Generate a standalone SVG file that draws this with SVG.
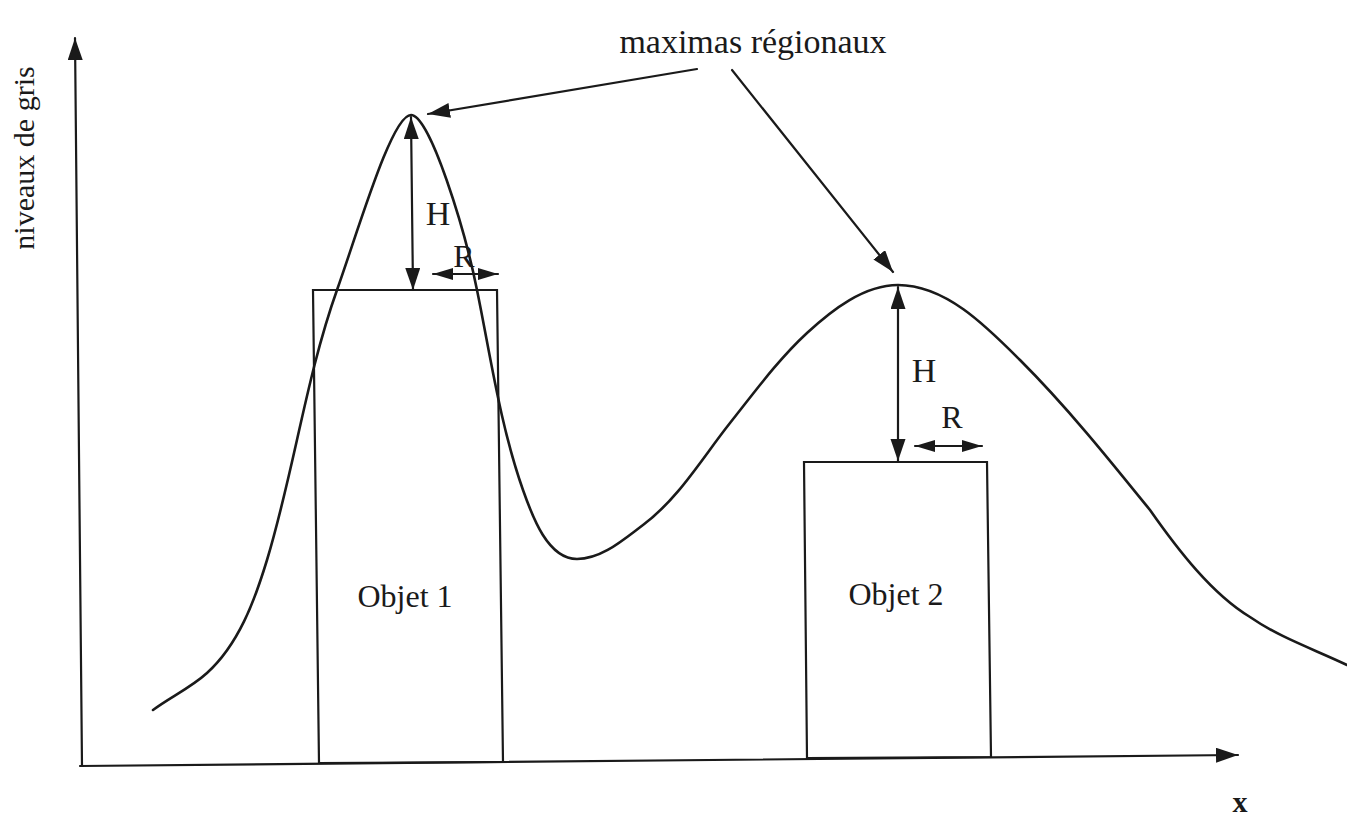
<svg xmlns="http://www.w3.org/2000/svg" width="1347" height="818" viewBox="0 0 1347 818">
<style>
.ln{fill:none;stroke:#1a1a1a;stroke-width:2.2;stroke-linecap:round;stroke-linejoin:round}
.cv{fill:none;stroke:#1a1a1a;stroke-width:2.6;stroke-linecap:round;stroke-linejoin:round}
.obj{fill:none;stroke:#1a1a1a;stroke-width:2.2}
.t{font-family:"Liberation Serif","Times New Roman",serif;fill:#1a1a1a}
</style>
<defs>
<marker id="ah" markerUnits="userSpaceOnUse" markerWidth="24" markerHeight="16" refX="22" refY="7.5" orient="auto-start-reverse" viewBox="0 0 24 16">
<path d="M0,0 L22,7.5 L0,15 z" fill="#1a1a1a"/>
</marker>
<marker id="ahs" markerUnits="userSpaceOnUse" markerWidth="22" markerHeight="14" refX="20" refY="6" orient="auto-start-reverse" viewBox="0 0 22 14">
<path d="M0,0 L20,6 L0,12 z" fill="#1a1a1a"/>
</marker>
</defs>
<rect width="1347" height="818" fill="#ffffff"/>
<g id="axes">
<line class="ln" x1="82" y1="766" x2="75" y2="38" marker-end="url(#ah)"/>
<line class="ln" x1="80" y1="766" x2="1238" y2="755" marker-end="url(#ah)"/>
<text class="t" x="34" y="158" font-size="30" text-anchor="middle" transform="rotate(-90 34 158)">niveaux de gris</text>
<text class="t" x="1240" y="812" font-size="30" font-weight="bold" text-anchor="middle">x</text>
</g>
<g id="objet1">
<polygon class="obj" points="313,290 497,290 503,762 319,763"/>
<text class="t" x="405" y="607" font-size="32" text-anchor="middle">Objet 1</text>
</g>
<g id="objet2">
<polygon class="obj" points="804,462 987,462 991,757 807,758"/>
<text class="t" x="896" y="605" font-size="32" text-anchor="middle">Objet 2</text>
</g>
<g id="profil">
<path class="cv" d="M153,710 C170.5,697 191,687.6 207,673 C238.5,644.5 254.6,600.9 267,560 C294,471 306,377 337,290 C360,225 392,115 411,115 C430,115 465,230 477,290 C490.6,356.6 500.4,426 523,490 C532.6,517.3 548,559 577,559 C601.7,559 623.2,539.8 643,525 C678.8,498.2 702.3,457.9 730,423 C754.4,392.3 778,359.8 807,333 C832,309.9 864,285 898,285 C945.7,285 986.3,326.3 1020,360 C1066.7,406.7 1108.4,458.5 1150,510 C1178,550 1212,594 1250,617 C1279.5,637.5 1314.6,649.5 1347,665"/>
</g>
<g id="mesures">
<line class="ln" x1="411" y1="117" x2="413" y2="290" marker-start="url(#ah)" marker-end="url(#ah)"/>
<text class="t" x="438" y="225" font-size="34" text-anchor="middle">H</text>
<line class="ln" x1="433" y1="274" x2="498" y2="274" marker-start="url(#ahs)" marker-end="url(#ahs)"/>
<text class="t" x="464" y="267" font-size="32" text-anchor="middle">R</text>
<line class="ln" x1="898" y1="287" x2="898" y2="461" marker-start="url(#ah)" marker-end="url(#ah)"/>
<text class="t" x="924" y="382" font-size="34" text-anchor="middle">H</text>
<line class="ln" x1="915" y1="446" x2="982" y2="446" marker-start="url(#ahs)" marker-end="url(#ahs)"/>
<text class="t" x="952" y="428" font-size="32" text-anchor="middle">R</text>
</g>
<g id="maximas">
<text class="t" x="753" y="53" font-size="34" text-anchor="middle">maximas régionaux</text>
</g>
<g id="connecteurs">
<line class="ln" x1="697" y1="69" x2="428" y2="114" marker-end="url(#ah)"/>
<line class="ln" x1="732" y1="70" x2="893" y2="272" marker-end="url(#ah)"/>
</g>
</svg>
